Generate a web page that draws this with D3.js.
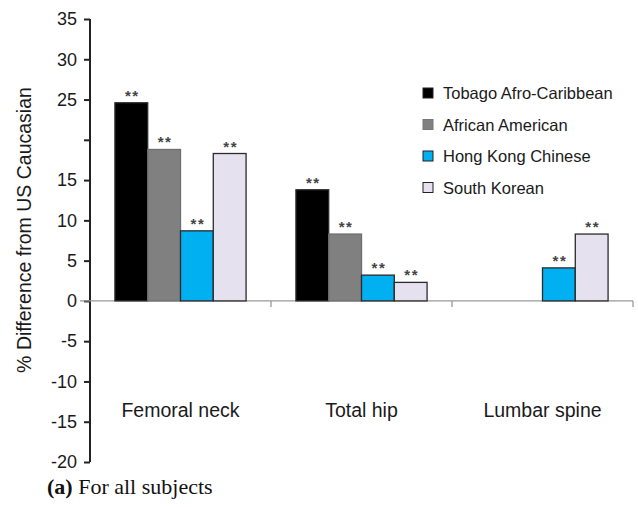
<!DOCTYPE html>
<html>
<head>
<meta charset="utf-8">
<script src="https://cdn.jsdelivr.net/npm/d3@7"></script>
<style>
  html, body { margin: 0; padding: 0; background: #fff; }
  svg { display: block; }
</style>
</head>
<body>
<svg id="chart" width="638" height="507"></svg>
<script>
// Sites measured and ethnic groups compared
const sites = ["Femoral neck", "Total hip", "Lumbar spine"];
const groups = ["Tobago Afro-Caribbean", "African American", "Hong Kong Chinese", "South Korean"];
const groupColors = ["#000000", "#808080", "#00b0f0", "#e6e1ee"];

// % difference from US Caucasian, one array per group (null = not reported)
const tobago = [24.6, 13.8, null];
const africanAmerican = [18.8, 8.3, null];
const hongKong = [8.7, 3.2, 4.1];
const southKorean = [18.3, 2.3, 8.3];
const seriesValues = [tobago, africanAmerican, hongKong, southKorean];

// y ticks; 20 is ticked but left unlabelled
const yTicks = [35, 30, 25, 20, 15, 10, 5, 0, -5, -10, -15, -20];
const yTickLabels = ["35", "30", "25", "", "15", "10", "5", "0", "-5", "-10", "-15", "-20"];
const sigMark = "**";

const svg = d3.select("#chart");
const plotLeft = 90, plotRight = 633, plotTop = 19, plotBottom = 462;

const x = d3.scaleBand().domain(sites).range([plotLeft, plotRight]).paddingInner(0).paddingOuter(0);
const xInner = d3.scaleBand().domain(groups).range([0, x.bandwidth()]).paddingOuter(0.76).paddingInner(0);
const y = d3.scaleLinear().domain([-20, 35]).range([plotBottom, plotTop]);

// y axis
const yAxis = d3.axisLeft(y).tickValues(yTicks).tickSize(6).tickSizeOuter(0)
  .tickFormat(d => yTickLabels[yTicks.indexOf(d)]);
const gy = svg.append("g").attr("transform", `translate(${plotLeft},0)`).call(yAxis);
gy.select(".domain").attr("stroke", "#222").attr("stroke-width", 2).attr("d", `M0,${y(35)}V${y(-20)}`);
gy.selectAll(".tick line").attr("stroke", "#222").attr("stroke-width", 2);
gy.selectAll(".tick text")
  .attr("x", -13)
  .style("font-family", "'Liberation Sans', Arial, sans-serif")
  .style("font-size", "18px")
  .attr("fill", "#1a1a1a");

// zero (category) line with boundary ticks
svg.append("line")
  .attr("x1", 80).attr("x2", plotRight)
  .attr("y1", y(0)).attr("y2", y(0))
  .attr("stroke", "#999").attr("stroke-width", 1.3);
const boundaries = sites.map(s => x(s) + x.bandwidth());
svg.selectAll(".btick").data(boundaries).join("line")
  .attr("x1", d => d).attr("x2", d => d)
  .attr("y1", y(0)).attr("y2", y(0) + 6)
  .attr("stroke", "#999").attr("stroke-width", 1.3);

// bars
const barData = [];
sites.forEach((s, si) => {
  groups.forEach((g, gi) => {
    const v = seriesValues[gi][si];
    if (v !== null) barData.push({ site: s, group: g, gi, v });
  });
});

svg.selectAll(".bar").data(barData).join("rect")
  .attr("x", d => x(d.site) + xInner(d.group))
  .attr("width", xInner.bandwidth())
  .attr("y", d => y(Math.max(0, d.v)))
  .attr("height", d => Math.abs(y(d.v) - y(0)))
  .attr("fill", d => groupColors[d.gi])
  .attr("stroke", d => d.gi === 1 ? "#6e6e6e" : "#2b2b2b")
  .attr("stroke-width", 1.3);

// significance marks
svg.selectAll(".sig").data(barData).join("text")
  .attr("x", d => x(d.site) + xInner(d.group) + xInner.bandwidth() / 2 + 1)
  .attr("y", d => y(d.v) - 2)
  .attr("text-anchor", "middle")
  .style("font-family", "'Liberation Sans', Arial, sans-serif")
  .style("font-size", "15px")
  .style("font-weight", "bold")
  .style("letter-spacing", "1.5px")
  .attr("fill", "#444")
  .text(sigMark);

// category labels
svg.selectAll(".cat").data(sites).join("text")
  .attr("x", d => x(d) + x.bandwidth() / 2)
  .attr("y", 417)
  .attr("text-anchor", "middle")
  .style("font-family", "'Liberation Sans', Arial, sans-serif")
  .style("font-size", "19.5px")
  .attr("fill", "#1a1a1a")
  .text(d => d);

// y axis title
svg.append("text")
  .attr("transform", `translate(31,230) rotate(-90)`)
  .attr("text-anchor", "middle")
  .style("font-family", "'Liberation Sans', Arial, sans-serif")
  .style("font-size", "19.5px")
  .attr("fill", "#1a1a1a")
  .text("% Difference from US Caucasian");

// legend
const legend = svg.append("g").attr("transform", "translate(423,93)");
const rows = legend.selectAll("g").data(groups).join("g")
  .attr("transform", (d, i) => `translate(0,${i * 31.5})`);
rows.append("rect")
  .attr("x", 0).attr("y", -5).attr("width", 10).attr("height", 10)
  .attr("fill", (d, i) => groupColors[i])
  .attr("stroke", (d, i) => i === 1 ? "#777" : "#222")
  .attr("stroke-width", 1);
rows.append("text")
  .attr("x", 20).attr("y", 6)
  .style("font-family", "'Liberation Sans', Arial, sans-serif")
  .style("font-size", "16.5px")
  .attr("fill", "#1a1a1a")
  .text(d => d);

// caption
const cap = svg.append("text")
  .attr("x", 47).attr("y", 494)
  .style("font-family", "'Liberation Serif', 'Times New Roman', serif")
  .style("font-size", "22px")
  .attr("fill", "#111");
cap.append("tspan").style("font-weight", "bold").text("(a)");
cap.append("tspan").text(" For all subjects");
</script>
</body>
</html>
